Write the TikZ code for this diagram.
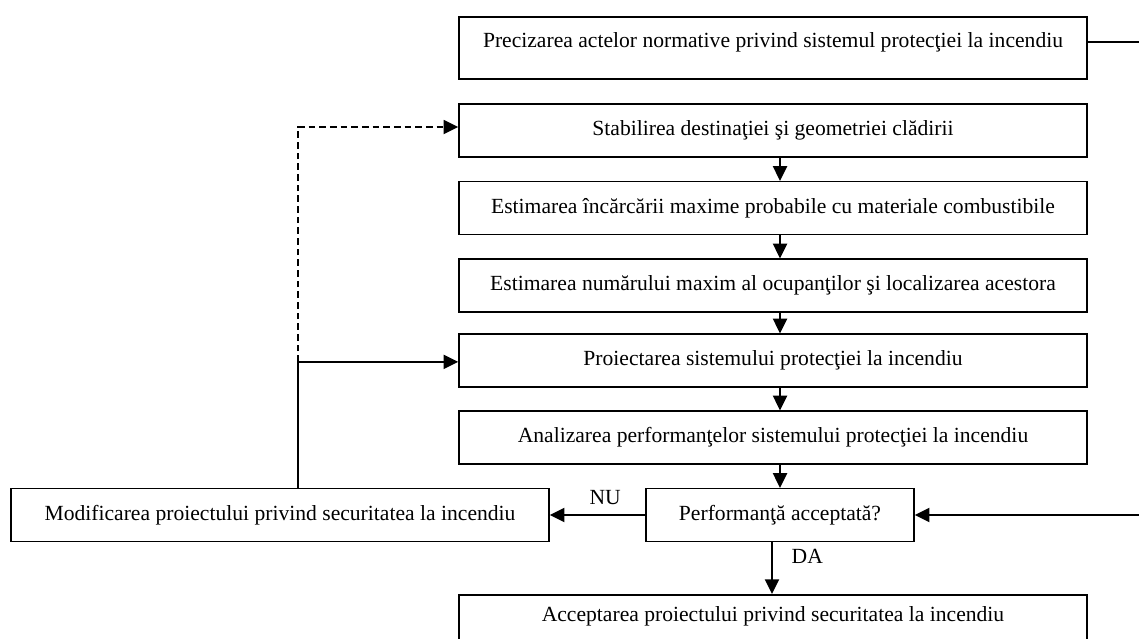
\documentclass[tikz,border=0pt]{standalone}
\usepackage{fontspec}
\setmainfont{Liberation Serif}
\usetikzlibrary{arrows.meta}
\newcommand\boxfont{\fontsize{16.2}{19}\selectfont}
\begin{document}
\begin{tikzpicture}[x=0.75pt,y=-0.75pt,
  box/.style={draw, line width=1.2pt, inner sep=0pt, minimum height=39.5pt, font=\boxfont},
  mainbox/.style={box, minimum width=471pt},
  txt/.style={inner sep=0pt, font=\boxfont},
  conn/.style={line width=1.5pt, -{Triangle[length=11pt,width=10.5pt]}},
  lbl/.style={font=\boxfont, inner sep=0pt}]
\useasboundingbox (0,0) rectangle (1139,639);
\coordinate (redge) at (1150,0);
\coordinate (lp) at (298,0);
% boxes
\node[mainbox, minimum height=46.5pt] (b1) at (773,48) {};
\node[txt] (t1) at (773,42) {Precizarea actelor normative privind sistemul protecţiei la incendiu};
\node[mainbox] (b2) at (773,130.5) {Stabilirea destinaţiei şi geometriei clădirii};
\node[mainbox] (b3) at (773,208) {Estimarea încărcării maxime probabile cu materiale combustibile};
\node[mainbox] (b4) at (773,285.5) {Estimarea numărului maxim al ocupanţilor şi localizarea acestora};
\node[mainbox] (b5) at (773,360.5) {Proiectarea sistemului protecţiei la incendiu};
\node[mainbox] (b6) at (773,437.5) {Analizarea performanţelor sistemului protecţiei la incendiu};
\node[box, minimum width=201pt] (perf) at (780,515) {Performanţă acceptată?};
\node[box, minimum width=403.5pt] (mod) at (280,515) {Modificarea proiectului privind securitatea la incendiu};
\node[mainbox, minimum height=60pt, anchor=north] (b7) at (773,594) {};
\node[txt] (t7) at (773,616) {Acceptarea proiectului privind securitatea la incendiu};
% connectors
\draw[line width=1pt] (b1.east |- t1) -- (redge |- t1);
\draw[conn] (b2.south -| perf.north) -- (b3.north -| perf.north);
\draw[conn] (b3.south -| perf.north) -- (b4.north -| perf.north);
\draw[conn] (b4.south -| perf.north) -- (b5.north -| perf.north);
\draw[conn] (b5.south -| perf.north) -- (b6.north -| perf.north);
\draw[conn] (b6.south -| perf.north) -- (perf.north);
\draw[conn] (perf.west) -- (mod.east) node[lbl, pos=0.42, above=7pt] {NU};
\draw[conn] ([xshift=-6pt]perf.south) -- ([xshift=-6pt]perf.south |- b7.north) node[lbl, pos=0.27, right=14pt] {DA};
\draw[conn] (redge |- perf.east) -- (perf.east);
\draw[conn] (mod.north -| lp) -- ([yshift=-1pt]lp |- b5.west) -- ([yshift=-1pt]b5.west);
\draw[conn, dash pattern=on 5pt off 3pt] ([yshift=-1pt]lp |- b5.west) -- ([yshift=2.6pt]lp |- b2.west) -- ([yshift=2.6pt]b2.west);
\end{tikzpicture}
\end{document}
